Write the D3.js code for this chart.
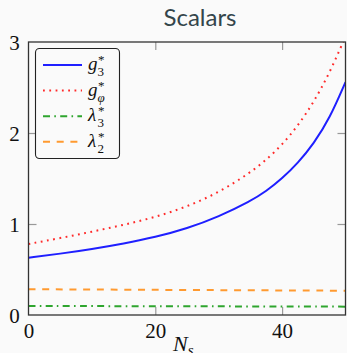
<!DOCTYPE html>
<html>
<head>
<meta charset="utf-8">
<script src="https://cdn.jsdelivr.net/npm/d3@7"></script>
<style>
  body { margin: 0; background: #fafafa; }
  svg { display: block; }
  .tick line { stroke: #999; stroke-width: 1.2; }
  .tick text { font-family: 'Liberation Serif', 'Times New Roman', serif; font-size: 21px; fill: #111; }
  .math { font-family: 'Liberation Serif', 'Times New Roman', serif; font-style: italic; fill: #111; }
</style>
</head>
<body>
<div class="board"></div>
<script>
// values
var nValues = [0, 5, 10, 15, 20, 25, 30, 35, 37.5, 40, 42.5, 45, 47.5, 50];
var g3 = [0.63, 0.673, 0.725, 0.785, 0.855, 0.95, 1.08, 1.25, 1.36, 1.5, 1.67, 1.885, 2.16, 2.56];
var gPhi = [0.78, 0.845, 0.915, 0.99, 1.075, 1.19, 1.345, 1.565, 1.705, 1.87, 2.08, 2.34, 2.66, 3.06];
var lambdaN = [0, 25, 50];
var lambda3 = [0.099, 0.096, 0.092];
var lambda2 = [0.283, 0.275, 0.267];
var xTicks = [0, 20, 40];
var yTicks = [0, 1, 2, 3];

var width = 347, height = 353;
var plotL = 28.5, plotR = 345.5, plotT = 42, plotB = 315;

var svg = d3.select('.board').append('svg')
  .attr('width', width)
  .attr('height', height);

svg.append('rect').attr('width', width).attr('height', height).attr('fill', '#fafafa');

var x = d3.scaleLinear().domain([0, 50]).range([plotL, plotR]);
var y = d3.scaleLinear().domain([0, 3]).range([plotB, plotT]);

// title
svg.append('text')
  .attr('x', 200).attr('y', 26)
  .attr('text-anchor', 'middle')
  .attr('font-family', 'Lato, sans-serif')
  .attr('font-size', 24)
  .attr('fill', '#34454b')
  .text('Scalars');

// inward ticks on all four sides
var xb = svg.append('g').attr('transform', 'translate(0,' + plotB + ')')
  .call(d3.axisBottom(x).tickValues(xTicks).tickSize(-8).tickFormat(d3.format('d')));
var xt = svg.append('g').attr('transform', 'translate(0,' + plotT + ')')
  .call(d3.axisTop(x).tickValues([20, 40]).tickSize(-8).tickFormat(''));
var yl = svg.append('g').attr('transform', 'translate(' + plotL + ',0)')
  .call(d3.axisLeft(y).tickValues(yTicks).tickSize(-8).tickFormat(d3.format('d')));
var yr = svg.append('g').attr('transform', 'translate(' + plotR + ',0)')
  .call(d3.axisRight(y).tickValues([1, 2]).tickSize(-8).tickFormat(''));
[xb, xt, yl, yr].forEach(function(a) { a.select('.domain').remove(); });
xb.selectAll('.tick text').attr('y', 16).attr('dy', '0.35em');
xb.selectAll('.tick').filter(function(d) { return d === 0; }).select('line').remove();
yl.selectAll('.tick').filter(function(d) { return d === 0 || d === 3; }).select('line').remove();
yl.selectAll('.tick text').attr('x', -14).attr('text-anchor', 'middle').attr('dy', '0.35em');

// x label
var xl = svg.append('text')
  .attr('class', 'math')
  .attr('x', 173).attr('y', 351)
  .attr('font-size', 22);
xl.append('tspan').text('N');
xl.append('tspan').attr('font-size', 15).attr('dy', 4).text('s');

svg.append('clipPath').attr('id', 'plot')
  .append('rect').attr('x', plotL).attr('y', plotT)
  .attr('width', plotR - plotL).attr('height', plotB - plotT);

var line = d3.line()
  .x(function(d) { return x(d[0]); })
  .y(function(d) { return y(d[1]); })
  .curve(d3.curveBasis);

var series = [
  {n: nValues, v: g3, color: '#1f1fff', dash: null, w: 2, base: 'g', sub: '3'},
  {n: nValues, v: gPhi, color: '#ff2a2a', dash: '1.8,4.5', w: 2, base: 'g', sub: '\u03c6'},
  {n: lambdaN, v: lambda3, color: '#2ea52e', dash: '7,4.3,1.6,4.3', w: 2, base: '\u03bb', sub: '3'},
  {n: lambdaN, v: lambda2, color: '#ff9a30', dash: '7,6.7', w: 2, base: '\u03bb', sub: '2'}
];

var plot = svg.append('g').attr('clip-path', 'url(#plot)');
series.forEach(function(s) {
  plot.append('path')
    .datum(s.n.map(function(n, i) { return [n, s.v[i]]; }))
    .attr('d', line)
    .attr('fill', 'none')
    .attr('stroke', s.color)
    .attr('stroke-width', s.w)
    .attr('stroke-dasharray', s.dash);
});

// frame
svg.append('rect')
  .attr('x', plotL).attr('y', plotT)
  .attr('width', plotR - plotL).attr('height', plotB - plotT)
  .attr('fill', 'none').attr('stroke', '#333').attr('stroke-width', 1.3);

// legend
var legend = svg.append('g');
legend.append('rect')
  .attr('x', 35.5).attr('y', 48.5).attr('width', 84).attr('height', 110)
  .attr('rx', 4).attr('fill', '#fafafa').attr('stroke', '#222').attr('stroke-width', 1.1);

series.forEach(function(s, i) {
  var yy = 65 + i * 25.6;
  legend.append('line')
    .attr('x1', 43).attr('x2', 82).attr('y1', yy).attr('y2', yy)
    .attr('stroke', s.color).attr('stroke-width', s.w)
    .attr('stroke-dasharray', s.dash);
  legend.append('text').attr('class', 'math')
    .attr('x', 88).attr('y', yy + 5).attr('font-size', 19).text(s.base);
  legend.append('text').attr('class', 'math')
    .attr('x', 98).attr('y', yy - 1).attr('font-size', 13).style('font-style', 'normal').text('*');
  legend.append('text').attr('class', 'math')
    .attr('x', 97.5).attr('y', yy + 11).attr('font-size', 13)
    .style('font-style', s.sub === '\u03c6' ? 'italic' : 'normal').text(s.sub);
});
</script>
</body>
</html>
